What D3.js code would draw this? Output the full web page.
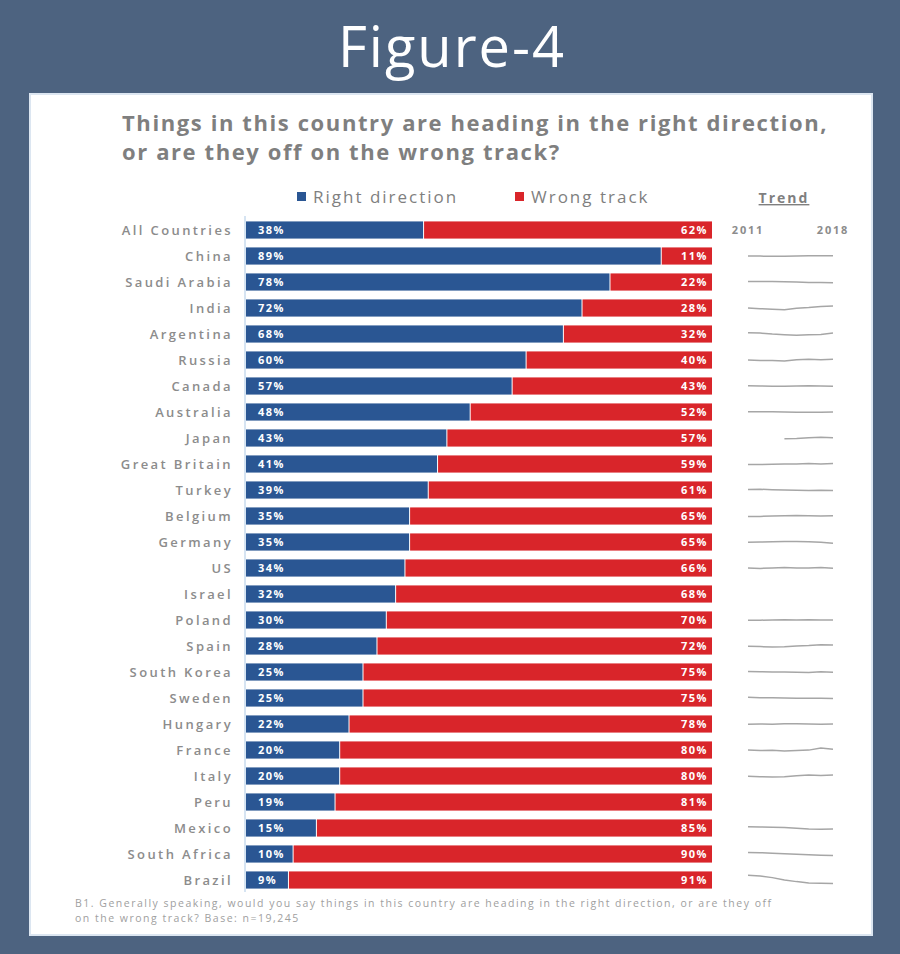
<!DOCTYPE html>
<html>
  <head>
    <meta charset="utf-8" />
    <title>figure-4</title>
    <style>
      html,
      body {
        padding: 0;
        margin: 0;
        background: #4d6380;
      }
      svg {
        display: block;
      }
    </style>
  </head>
  <body>
    <svg width="900" height="954"></svg>

    <script src="https://cdn.jsdelivr.net/npm/d3@7/dist/d3.min.js"></script>
    <script>
      // country order as in the chart
      const countries = [
        'All Countries', 'China', 'Saudi Arabia', 'India', 'Argentina', 'Russia',
        'Canada', 'Australia', 'Japan', 'Great Britain', 'Turkey', 'Belgium',
        'Germany', 'US', 'Israel', 'Poland', 'Spain', 'South Korea', 'Sweden',
        'Hungary', 'France', 'Italy', 'Peru', 'Mexico', 'South Africa', 'Brazil',
      ];
      const rightDirection = [
        38, 89, 78, 72, 68, 60, 57, 48, 43, 41, 39, 35, 35, 34, 32, 30, 28, 25,
        25, 22, 20, 20, 19, 15, 10, 9,
      ];
      const wrongTrack = [
        62, 11, 22, 28, 32, 40, 43, 52, 57, 59, 61, 65, 65, 66, 68, 70, 72, 75,
        75, 78, 80, 80, 81, 85, 90, 91,
      ];
      const trendYears = [2011, 2012, 2013, 2014, 2015, 2016, 2017, 2018];
      // right direction trend, 2011-2018 (null = no reading)
      const trend = [
        null,
        [88, 87, 86, 86, 87, 89, 90, 89],
        [86, 85, 85, 84, 82, 80, 79, 78],
        [60, 55, 52, 48, 58, 62, 68, 72],
        [70, 68, 62, 58, 55, 58, 60, 68],
        [55, 53, 52, 50, 58, 60, 58, 60],
        [60, 58, 57, 57, 58, 60, 59, 57],
        [50, 49, 50, 48, 47, 46, 47, 48],
        [null, null, null, 36, 38, 42, 45, 43],
        [35, 34, 36, 38, 38, 40, 38, 41],
        [45, 46, 44, 42, 40, 38, 40, 39],
        [30, 31, 33, 35, 36, 35, 34, 35],
        [40, 42, 44, 46, 46, 44, 40, 35],
        [35, 33, 36, 38, 36, 35, 38, 34],
        null,
        [28, 29, 30, 31, 30, 32, 30, 30],
        [20, 18, 15, 17, 22, 25, 30, 28],
        [30, 28, 27, 26, 25, 24, 28, 25],
        [32, 30, 29, 28, 27, 26, 26, 25],
        [20, 22, 21, 23, 24, 22, 21, 22],
        [15, 12, 14, 10, 12, 15, 28, 20],
        [12, 10, 8, 10, 15, 20, 18, 20],
        null,
        [30, 28, 27, 25, 20, 15, 14, 15],
        [30, 28, 25, 22, 18, 15, 12, 10],
        [60, 55, 45, 30, 20, 12, 10, 9],
      ];
      const seriesNames = ['Right direction', 'Wrong track'];
      const colors = ['#2a5693', '#d9252a'];

      const svg = d3.select('svg');
      const font = "'Open Sans', 'DejaVu Sans', sans-serif";

      // big heading on the slate background
      svg
        .append('text')
        .attr('x', 452)
        .attr('y', 67)
        .attr('text-anchor', 'middle')
        .attr('fill', '#fff')
        .style('font-family', font)
        .style('font-size', '56px')
        .style('letter-spacing', '2px')
        .text('Figure-4');

      // white panel
      svg
        .append('rect')
        .attr('x', 30)
        .attr('y', 94)
        .attr('width', 842)
        .attr('height', 841)
        .attr('fill', '#fff')
        .attr('stroke', '#dce6f1')
        .attr('stroke-width', 2);

      const title = svg
        .append('text')
        .attr('fill', '#7f7f7f')
        .style('font-family', font)
        .style('font-weight', 700)
        .style('font-size', '22px')
        .style('letter-spacing', '1.6px');
      title.append('tspan').attr('x', 122).attr('y', 131).text('Things in this country are heading in the right direction,');
      title.append('tspan').attr('x', 122).attr('y', 160).text('or are they off on the wrong track?');

      // legend
      const legend = svg.append('g').style('font-family', font);
      [297, 515].forEach((lx, i) => {
        legend.append('rect').attr('x', lx).attr('y', 192).attr('width', 9).attr('height', 9).attr('fill', colors[i]);
        legend
          .append('text')
          .attr('x', lx + 16)
          .attr('y', 203)
          .attr('fill', '#7f7f7f')
          .style('font-size', '17px')
          .style('letter-spacing', '2px')
          .text(seriesNames[i]);
      });
      legend
        .append('text')
        .attr('x', 784)
        .attr('y', 203)
        .attr('text-anchor', 'middle')
        .attr('fill', '#7f7f7f')
        .style('font-size', '14px')
        .style('font-weight', 700)
        .style('letter-spacing', '2px')
        .style('text-decoration', 'underline')
        .text('Trend');

      const x = d3.scaleLinear().domain([0, 100]).range([246, 712]);
      const y = d3.scaleBand().domain(countries).range([217, 893]).paddingInner(0.34).paddingOuter(0.17);
      const barH = y.bandwidth();
      const cy = (c) => y(c) + barH / 2;

      // light axis line at the bars' left edge
      svg
        .append('line')
        .attr('x1', x(0) - 1)
        .attr('x2', x(0) - 1)
        .attr('y1', 216)
        .attr('y2', 892)
        .attr('stroke', '#d6e4f2')
        .attr('stroke-width', 2);

      const rows = svg
        .append('g')
        .selectAll('g')
        .data(countries.map((c, i) => ({ c, r: rightDirection[i], w: wrongTrack[i], t: trend[i] })))
        .join('g');

      rows
        .append('text')
        .attr('x', 233)
        .attr('y', (d) => cy(d.c) + 4.5)
        .attr('text-anchor', 'end')
        .attr('fill', '#8c8c8c')
        .style('font-family', font)
        .style('font-size', '13px')
        .style('font-weight', 600)
        .style('letter-spacing', '2.4px')
        .text((d) => d.c);

      rows
        .append('rect')
        .attr('x', x(0))
        .attr('y', (d) => y(d.c))
        .attr('width', (d) => x(d.r) - x(0))
        .attr('height', barH)
        .attr('fill', colors[0]);

      rows
        .append('rect')
        .attr('x', (d) => x(d.r) + 1)
        .attr('y', (d) => y(d.c))
        .attr('width', (d) => x(d.r + d.w) - x(d.r) - 1)
        .attr('height', barH)
        .attr('fill', colors[1]);

      const valueText = (sel) =>
        sel
          .attr('fill', '#fff')
          .style('font-family', font)
          .style('font-size', '11px')
          .style('font-weight', 700)
          .style('letter-spacing', '1.5px');

      rows
        .append('text')
        .attr('x', x(0) + 12)
        .attr('y', (d) => cy(d.c) + 4)
        .call(valueText)
        .text((d) => d.r + '%');

      rows
        .append('text')
        .attr('x', x(100) - 4)
        .attr('y', (d) => cy(d.c) + 4)
        .attr('text-anchor', 'end')
        .call(valueText)
        .text((d) => d.w + '%');

      // trend sparklines
      const tx = d3.scaleLinear().domain(d3.extent(trendYears)).range([748, 833]);
      [0, trendYears.length - 1].forEach((k) => {
        svg
          .append('text')
          .attr('x', tx(trendYears[k]))
          .attr('y', cy(countries[0]) + 4)
          .attr('text-anchor', 'middle')
          .attr('fill', '#8c8c8c')
          .style('font-family', font)
          .style('font-size', '11px')
          .style('font-weight', 700)
          .style('letter-spacing', '1.8px')
          .text(trendYears[k]);
      });

      rows
        .filter((d) => d.t)
        .append('path')
        .attr('fill', 'none')
        .attr('stroke', '#a6a6a6')
        .attr('stroke-width', 1.5)
        .attr('d', (d) => {
          const mean = d3.mean(d.t);
          const ty = d3.scaleLinear().domain([mean - 50, mean + 50]).range([cy(d.c) + 8, cy(d.c) - 8]);
          return d3
            .line()
            .defined((v) => v != null)
            .x((v, i) => tx(trendYears[i]))
            .y((v) => ty(v))(d.t);
        });

      // footnote
      const note = svg
        .append('text')
        .attr('fill', '#a0a0a0')
        .style('font-family', font)
        .style('font-size', '10.5px')
        .style('letter-spacing', '1.5px');
      note
        .append('tspan')
        .attr('x', 75)
        .attr('y', 907)
        .text('B1. Generally speaking, would you say things in this country are heading in the right direction, or are they off');
      note.append('tspan').attr('x', 75).attr('y', 922).text('on the wrong track? Base: n=19,245');
    </script>
  </body>
</html>
